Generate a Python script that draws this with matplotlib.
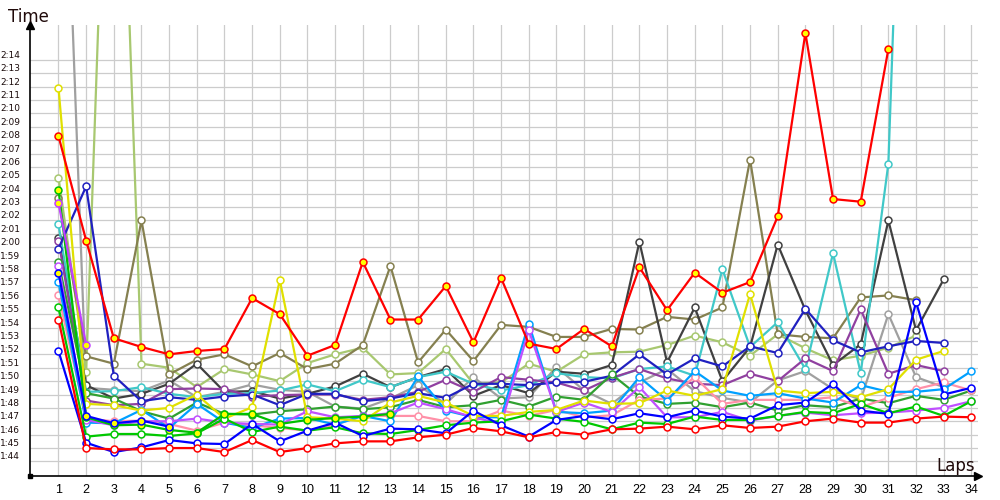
import numpy as np
import matplotlib.pyplot as plt

# lap times in seconds, each list starts at lap 1
red_w = [114.6, 105.0, 104.9, 104.9, 105.0, 105.0, 104.7, 105.6, 104.7, 105.0, 105.35, 105.5, 105.5, 105.8,
         106.0, 106.5, 106.25, 105.8, 106.2, 106.0, 106.4, 106.45, 106.6, 106.4, 106.7, 106.5, 106.6, 107.0,
         107.2, 106.9, 106.9, 107.2, 107.35, 107.3]
blue = [112.25, 105.4, 104.7, 105.05, 105.6, 105.35, 105.3, 106.8, 105.5, 106.3, 106.9, 105.9, 106.45, 106.4,
        106.1, 107.8, 106.7, 105.85, 107.1, 107.4, 107.15, 107.6, 107.3, 107.8, 107.35, 107.2, 108.2, 108.4,
        109.8, 107.8, 107.55, 115.9, 109.0, 109.5]
navy = [119.9, 124.55, 110.4, 108.5, 108.8, 108.6, 108.85, 109.0, 108.2, 109.05, 109.05, 108.5, 108.7, 109.1,
        108.75, 109.8, 109.8, 109.7, 109.9, 109.95, 110.4, 112.0, 110.5, 111.7, 111.1, 112.6, 112.1, 115.4,
        113.05, 112.15, 112.6, 113.0, 112.85]
olive = [123.7, 111.85, 111.3, 122.0, 110.5, 111.6, 112.0, 111.1, 112.1, 110.9, 111.3, 112.7, 118.6, 111.4,
         113.85, 111.5, 114.2, 114.05, 113.3, 113.3, 113.9, 113.85, 114.8, 114.6, 115.5, 126.55, 113.5, 113.3,
         113.2, 116.25, 116.4, 116.05]
lightgreen = [125.2, 110.7, 170.0, 111.3, 111.0, 109.55, 110.9, 110.5, 110.0, 111.35, 112.0, 112.5, 110.5,
              110.6, 112.4, 109.8, 109.9, 111.3, 110.7, 112.0, 112.15, 112.2, 112.7, 113.4, 112.9, 111.9, 113.5,
              112.45, 111.55, 111.9, 112.5, 113.4]
grey = [165.0, 109.5, 109.35, 109.25, 110.05, 108.8, 109.2, 109.75, 109.35, 109.2, 108.1, 107.95, 108.7, 109.7,
        108.3, 110.3, 108.7, 108.8, 111.05, 109.3, 108.3, 109.9, 110.9, 109.25, 108.75, 108.4, 110.05, 110.75,
        109.4, 108.6, 115.0, 110.3, 109.55]
cyan = [121.7, 109.2, 109.25, 109.55, 109.05, 108.8, 109.05, 109.1, 109.3, 109.75, 109.25, 110.1, 109.55, 110.3,
        110.7, 109.8, 109.3, 109.7, 110.6, 110.3, 110.2, 110.9, 111.1, 110.4, 118.35, 112.55, 114.4, 110.9,
        119.55, 110.6, 126.25, 185.0]
darkgrey = [120.7, 109.7, 108.7, 109.05, 109.8, 111.3, 109.2, 109.25, 108.7, 109.05, 109.6, 110.55, 109.55,
            110.3, 110.9, 108.9, 109.7, 109.1, 110.7, 110.55, 111.2, 120.4, 111.4, 115.5, 110.0, 112.55, 120.2,
            115.3, 111.2, 112.75, 122.0, 113.8, 117.6]
yellow = [131.9, 108.3, 108.2, 107.8, 108.0, 109.0, 107.2, 108.05, 117.55, 107.3, 107.2, 107.0, 108.4, 108.9,
          108.4, 107.4, 107.4, 107.7, 107.85, 108.55, 108.3, 108.35, 109.3, 108.9, 109.4, 116.5, 109.3, 109.1,
          109.2, 108.8, 109.4, 111.6, 112.25]
violet = [118.6, 107.1, 106.7, 107.0, 107.0, 107.2, 106.9, 106.8, 106.75, 107.75, 107.3, 107.4, 107.6, 108.4,
          107.9, 107.3, 106.8, 113.8, 107.7, 108.4, 107.7, 109.55, 107.3, 107.3, 107.7, 107.05, 107.4, 107.65,
          107.45, 107.6, 107.65, 107.8, 108.0, 108.5]
purple = [120.5, 108.55, 108.2, 108.3, 109.4, 109.45, 109.4, 108.85, 108.95, 109.0, 109.0, 108.6, 108.8, 109.2,
          110.1, 109.2, 110.3, 110.1, 109.9, 109.3, 110.25, 110.9, 110.2, 109.8, 109.7, 110.55, 110.0, 111.7,
          110.75, 115.35, 110.55, 111.2, 110.75]
darkgreen = [118.9, 109.1, 108.7, 107.75, 107.2, 108.4, 107.55, 107.5, 107.75, 107.9, 108.1, 107.9, 108.05,
             108.6, 108.05, 108.2, 108.6, 108.1, 108.85, 108.6, 110.5, 108.85, 108.3, 108.4, 108.05, 108.4, 107.8,
             108.2, 108.05, 108.7, 108.35, 108.9, 108.6, 109.3]
pink = [116.4, 107.2, 107.0, 107.05, 106.8, 106.3, 106.9, 106.7, 106.5, 106.3, 106.75, 107.4, 107.4, 107.4,
        107.0, 107.0, 107.8, 107.4, 107.85, 107.3, 107.45, 108.6, 108.7, 110.3, 108.3, 108.6, 108.6, 108.6,
        108.8, 108.05, 108.75, 109.4, 109.9, 109.3]
skyblue = [117.4, 106.9, 106.85, 107.85, 106.5, 108.3, 106.9, 106.5, 107.2, 107.25, 106.75, 107.4, 107.0, 110.35,
           107.8, 107.3, 107.3, 114.3, 107.7, 107.6, 107.8, 110.3, 108.55, 110.75, 109.3, 108.9, 109.1, 108.7,
           108.4, 109.7, 109.2, 109.2, 109.4, 110.75]
green_w = [115.5, 105.85, 106.05, 106.05, 105.9, 106.1, 107.2, 106.2, 106.6, 106.3, 106.55, 106.1, 106.05, 106.35,
           106.7, 106.9, 107.0, 107.5, 107.2, 106.95, 106.4, 106.9, 106.8, 107.35, 107.1, 107.1, 107.4, 107.7,
           107.6, 108.3, 107.6, 108.1, 107.4, 108.5]
green_y = [124.3, 107.3, 106.7, 106.75, 106.35, 106.15, 107.55, 107.55, 106.8, 107.1, 107.25, 107.35, 107.55]
blue_y = [118.1, 107.4, 106.85, 107.05, 106.6]
violet_y = [123.3, 112.7]
red_y = [128.3, 120.5, 113.2, 112.55, 112.0, 112.25, 112.4, 116.2, 115.0, 111.9, 112.7, 118.9, 114.6, 114.6,
         117.1, 112.9, 117.7, 112.8, 112.4, 113.9, 112.6, 118.5, 115.3, 118.1, 116.6, 117.4, 122.3, 136.0, 123.6,
         123.4, 134.8]

laps = list(range(1, 35))
time_ticks = list(range(104, 135))
time_labels = ['%d:%02d' % (t // 60, t % 60) for t in time_ticks]

# (data, line colour, marker face)
series = [
    (grey, '#a0a0a0', 'white'),
    (lightgreen, '#a8c870', 'white'),
    (olive, '#858050', 'white'),
    (darkgrey, '#404040', 'white'),
    (cyan, '#40c8c8', 'white'),
    (purple, '#9040a0', 'white'),
    (navy, '#2020c0', 'white'),
    (darkgreen, '#30a030', 'white'),
    (pink, '#ff90a8', 'white'),
    (skyblue, '#00a0ff', 'white'),
    (violet, '#c050ff', 'white'),
    (yellow, '#e0e000', 'white'),
    (green_w, '#00c800', 'white'),
    (blue, '#0000ff', 'white'),
    (red_w, '#ff0000', 'white'),
    (green_y, '#00c000', '#ffff00'),
    (blue_y, '#0000ff', '#ffff00'),
    (violet_y, '#c040ff', '#ffff00'),
    (red_y, '#ff0000', '#ffff00'),
]

fig = plt.figure(figsize=(10, 5), dpi=100)
ax = fig.add_axes([0.030, 0.049, 0.948, 0.901])

for vals, col, face in series:
    ax.plot(laps[:len(vals)], vals, color=col, lw=1.6, marker='o', ms=5,
            mfc=face, mec=col, mew=1.1)

ax.set_xlim(-0.03, 34.24)
ax.set_ylim(102.95, 136.6)
ax.set_xticks(laps)
ax.set_xticklabels([str(l) for l in laps], fontsize=9, family='Liberation Sans')
ax.set_yticks(time_ticks)
ax.set_yticklabels(time_labels, fontsize=6.5, family='DejaVu Sans', color='#1a0a0a')
for t in ax.get_yticklabels():
    t.set_va('bottom')
ax.tick_params(axis='x', length=0, pad=6)
ax.tick_params(axis='y', length=0, pad=7)
ax.grid(True, color='#cccccc', lw=0.9)
ax.set_axisbelow(True)

for s in ['top', 'right']:
    ax.spines[s].set_visible(False)
for s in ['left', 'bottom']:
    ax.spines[s].set_linewidth(1.2)

ax.plot([0], [1], marker='^', color='k', ms=6, transform=ax.transAxes, clip_on=False)
ax.plot([1], [0], marker='>', color='k', ms=6, transform=ax.transAxes, clip_on=False)
ax.plot([0], [0], marker='s', color='k', ms=3, transform=ax.transAxes, clip_on=False)

fig.text(0.008, 0.984, 'Time', fontsize=12, va='top', color='#200a0a', family='DejaVu Sans')
fig.text(0.975, 0.058, 'Laps', fontsize=12, ha='right', va='baseline', color='#200a0a', family='DejaVu Sans')

fig.savefig('out.png', dpi=100)
